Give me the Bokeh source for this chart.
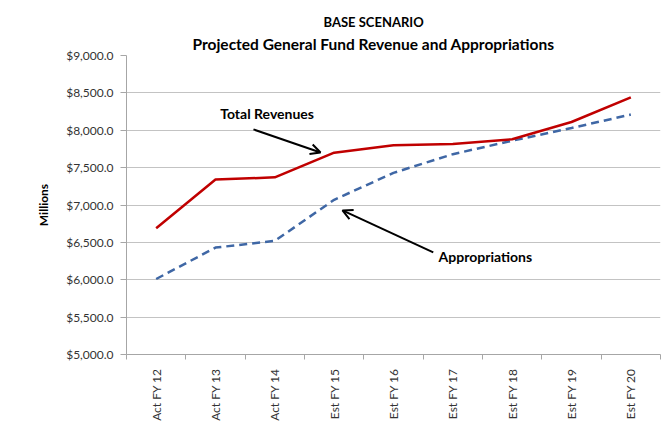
import math
from bokeh.plotting import figure
from bokeh.models import (FixedTicker, NumeralTickFormatter, Arrow, OpenHead,
                          Label, Title, Range1d)
from bokeh.embed import file_html
from bokeh.resources import INLINE

categories = ["Act FY 12", "Act FY 13", "Act FY 14", "Est FY 15", "Est FY 16",
              "Est FY 17", "Est FY 18", "Est FY 19", "Est FY 20"]
revenues = [6690, 7340, 7370, 7700, 7800, 7815, 7880, 8110, 8440]
appropriations = [6010, 6430, 6520, 7070, 7430, 7680, 7860, 8030, 8210]
y_ticks = [5000, 5500, 6000, 6500, 7000, 7500, 8000, 8500, 9000]

FONT = "Lato"
xs = [i + 0.5 for i in range(len(categories))]

p = figure(width=663, height=429, x_range=Range1d(0, len(categories)),
           y_range=Range1d(y_ticks[0], y_ticks[-1]),
           output_backend="svg", toolbar_location=None,
           min_border_left=126, min_border_right=3, min_border_bottom=75,
           min_border_top=55)
p.outline_line_color = None
p.background_fill_color = "white"
p.border_fill_color = "white"

# titles (first added is closest to the plot)
p.add_layout(Title(text="Projected General Fund Revenue and Appropriations",
                   align="left", offset=66, text_font=FONT,
                   text_font_size="15.5px", text_font_style="bold",
                   text_color="#000000", standoff=5), "above")
p.add_layout(Title(text="BASE SCENARIO", align="left", offset=197,
                   text_font=FONT, text_font_size="13px",
                   text_font_style="bold", text_color="#000000",
                   standoff=1), "above")

# axes
p.xgrid.grid_line_color = None
p.ygrid.grid_line_color = "#c3c3c3"
p.ygrid.grid_line_width = 1
p.yaxis.ticker = FixedTicker(ticks=y_ticks)
p.yaxis.formatter = NumeralTickFormatter(format="$0,0.0")
p.yaxis.axis_line_color = "#a6a6a6"
p.yaxis.major_tick_line_color = "#a6a6a6"
p.yaxis.major_tick_out = 6
p.yaxis.major_tick_in = 0
p.yaxis.minor_tick_line_color = None
p.yaxis.major_label_standoff = 7
p.yaxis.major_label_text_font = FONT
p.yaxis.major_label_text_font_size = "12px"
p.yaxis.major_label_text_color = "#333333"
p.yaxis.axis_label = "Millions"
p.yaxis.axis_label_text_font = FONT
p.yaxis.axis_label_text_font_size = "12px"
p.yaxis.axis_label_text_font_style = "bold"
p.yaxis.axis_label_text_color = "#000000"
p.yaxis.axis_label_standoff = 12

p.xaxis.ticker = FixedTicker(ticks=xs, minor_ticks=list(range(len(categories) + 1)))
p.xaxis.major_label_overrides = {x: c for x, c in zip(xs, categories)}
p.xaxis.major_label_orientation = math.pi / 2
p.xaxis.axis_line_color = "#a6a6a6"
p.xaxis.major_tick_line_color = None
p.xaxis.major_tick_out = 0
p.xaxis.major_tick_in = 0
p.xaxis.minor_tick_line_color = "#a6a6a6"
p.xaxis.minor_tick_out = 5
p.xaxis.minor_tick_in = 0
p.xaxis.major_label_standoff = 9
p.xaxis.major_label_text_font = FONT
p.xaxis.major_label_text_font_size = "12px"
p.xaxis.major_label_text_color = "#333333"

# series
p.line(xs, appropriations, line_color="#3f67a5", line_width=2.5, line_dash="8 5")
p.line(xs, revenues, line_color="#c00000", line_width=2.5)

# annotations
p.add_layout(Label(x=1.58, y=8225, text="Total Revenues", text_font=FONT,
                   text_font_size="14px", text_font_style="bold",
                   text_baseline="middle", text_color="#000000"))
p.add_layout(Arrow(x_start=2.14, y_start=8011, x_end=3.27, y_end=7703,
                   line_color="black", line_width=2,
                   end=OpenHead(size=10, line_color="black", line_width=2)))
p.add_layout(Label(x=5.26, y=6313, text="Appropriations", text_font=FONT,
                   text_font_size="14px", text_font_style="bold",
                   text_baseline="middle", text_color="#000000"))
p.add_layout(Arrow(x_start=5.17, y_start=6366, x_end=3.64, y_end=6928,
                   line_color="black", line_width=2,
                   end=OpenHead(size=10, line_color="black", line_width=2)))

open("out.html", "w").write(file_html(p, INLINE))
